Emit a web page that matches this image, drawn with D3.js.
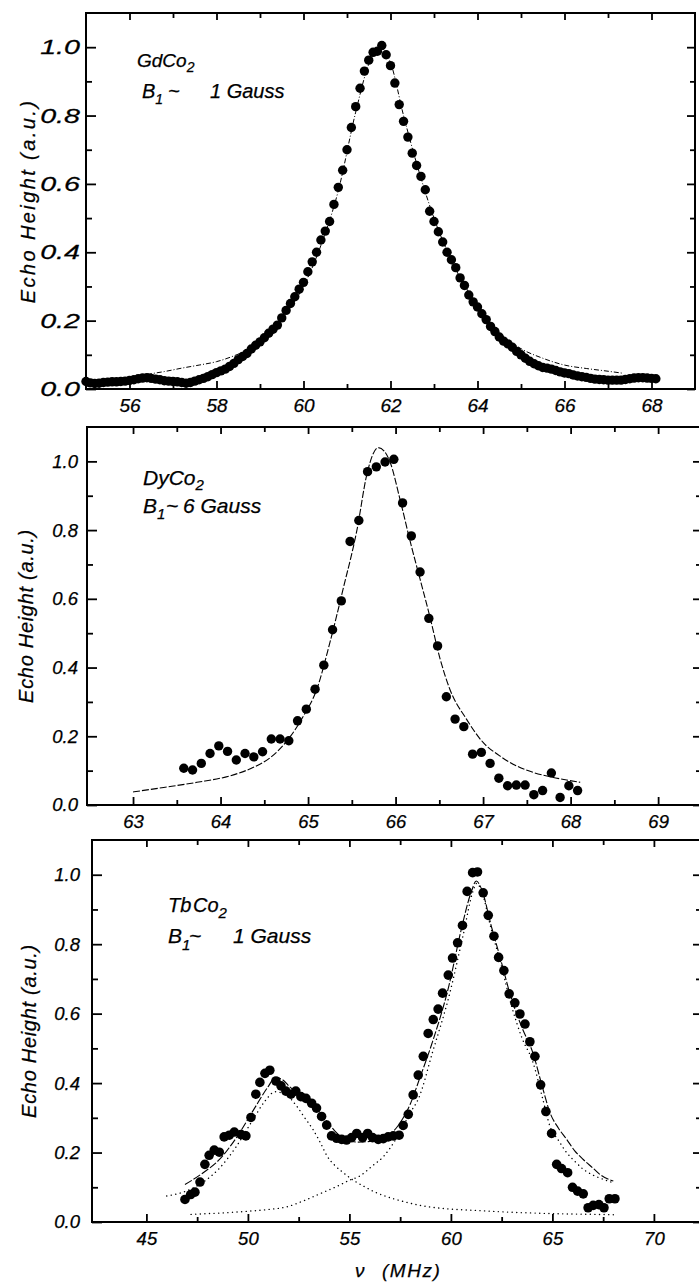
<!DOCTYPE html>
<html><head><meta charset="utf-8">
<script src="https://cdn.jsdelivr.net/npm/d3@7"></script>
<style>
body{margin:0;background:#fff}
svg{display:block}
text{font-family:"Liberation Sans",Arial,Helvetica,sans-serif;font-style:italic;fill:#000;stroke:#000;stroke-width:0.25px}
</style>
</head><body>
<svg id="c" width="699" height="1287"></svg>
<script>
// ---------------- DATA ----------------
// Panel 1: GdCo2
const gdFreq = [55.0,55.1,55.2,55.3,55.4,55.5,55.6,55.7,55.8,55.9,56.0,56.1,56.2,56.3,56.4,56.5,56.6,56.7,56.8,56.9,57.0,57.1,57.2,57.3,57.4,57.5,57.6,57.7,57.8,57.9,58.0,58.1,58.2,58.3,58.4,58.5,58.6,58.7,58.8,58.9,59.0,59.1,59.2,59.3,59.4,59.5,59.6,59.7,59.8,59.9,60.0,60.1,60.2,60.3,60.4,60.5,60.6,60.7,60.8,60.9,61.0,61.1,61.2,61.3,61.4,61.5,61.6,61.7,61.8,61.9,62.0,62.1,62.2,62.3,62.4,62.5,62.6,62.7,62.8,62.9,63.0,63.1,63.2,63.3,63.4,63.5,63.6,63.7,63.8,63.9,64.0,64.1,64.2,64.3,64.4,64.5,64.6,64.7,64.8,64.9,65.0,65.1,65.2,65.3,65.4,65.5,65.6,65.7,65.8,65.9,66.0,66.1,66.2,66.3,66.4,66.5,66.6,66.7,66.8,66.9,67.0,67.1,67.2,67.3,67.4,67.5,67.6,67.7,67.8,67.9,68.0,68.1];
const gdEcho = [0.022,0.018,0.016,0.017,0.019,0.020,0.021,0.021,0.022,0.023,
0.025,0.027,0.030,0.032,0.033,0.031,0.029,0.027,0.024,0.023,
0.022,0.021,0.019,0.017,0.019,0.023,0.027,0.031,0.036,0.042,
0.048,0.053,0.058,0.066,0.075,0.086,0.095,0.104,0.117,0.128,
0.138,0.150,0.163,0.175,0.187,0.208,0.230,0.250,0.270,0.292,
0.312,0.343,0.372,0.400,0.436,0.462,0.490,0.540,0.590,0.640,
0.700,0.765,0.826,0.880,0.930,0.962,0.985,0.988,1.005,0.978,
0.946,0.895,0.832,0.783,0.737,0.690,0.654,0.622,0.583,0.520,
0.490,0.460,0.430,0.400,0.378,0.355,0.325,0.303,0.275,0.255,
0.240,0.220,0.203,0.183,0.168,0.152,0.140,0.132,0.122,0.110,
0.100,0.090,0.081,0.074,0.068,0.063,0.061,0.058,0.054,0.050,
0.047,0.045,0.041,0.038,0.036,0.034,0.031,0.029,0.028,0.027,
0.026,0.026,0.026,0.026,0.028,0.030,0.032,0.033,0.033,0.032,
0.031,0.030];
const gdFitFreq = [56.4,56.8,57.2,57.6,58.0,58.4,58.8,59.2,59.6,60.0,60.4,60.8,61.2,61.5,61.75,62.0,62.3,62.6,63.0,63.5,64.0,64.5,65.0,65.5,66.0,66.5,67.0,67.35];
const gdFitEcho = [0.043,0.051,0.061,0.070,0.080,0.097,0.120,0.160,0.222,0.300,0.420,0.580,0.810,0.950,1.000,0.955,0.800,0.660,0.500,0.350,0.245,0.165,0.118,0.090,0.070,0.060,0.052,0.046];

// Panel 2: DyCo2
const dyFreq = [63.58,63.68,63.78,63.88,63.98,64.08,64.18,64.28,64.38,64.48,64.58,64.68,64.78,64.88,64.98,65.08,65.18,65.28,65.38,65.48,65.58,65.68,65.78,65.88,65.98,66.08,66.18,66.28,66.38,66.48,66.58,66.68,66.78,66.88,66.98,67.08,67.18,67.28,67.38,67.48,67.58,67.68,67.78,67.88,67.98,68.08];
const dyEcho = [0.107,0.102,0.121,0.150,0.172,0.156,0.131,0.150,0.140,0.155,0.192,0.192,0.187,0.245,0.279,0.337,0.407,0.510,0.594,0.767,0.828,0.970,0.984,0.998,1.006,0.879,0.783,0.678,0.543,0.463,0.315,0.250,0.228,0.148,0.153,0.121,0.078,0.056,0.058,0.058,0.030,0.042,0.093,0.022,0.056,0.042];
const dyFitFreq = [63.0,63.35,63.73,64.11,64.37,64.57,64.76,64.95,65.10,65.25,65.40,65.56,65.67,65.74,65.80,65.87,65.94,66.05,66.17,66.28,66.39,66.51,66.62,66.81,67.0,67.19,67.38,67.57,67.77,68.11];
const dyFitEcho = [0.038,0.051,0.066,0.085,0.109,0.138,0.187,0.260,0.337,0.473,0.628,0.802,0.960,1.020,1.040,1.030,0.996,0.890,0.764,0.657,0.550,0.424,0.337,0.250,0.182,0.143,0.114,0.095,0.082,0.066];

// Panel 3: TbCo2
const tbFreq = [46.90,47.18,47.39,47.64,47.88,48.09,48.34,48.59,48.83,49.08,49.33,49.66,49.90,50.15,50.39,50.59,50.84,51.08,51.38,51.63,51.87,52.12,52.36,52.61,52.86,53.14,53.38,53.63,53.88,54.12,54.37,54.62,54.86,55.11,55.36,55.65,55.90,56.14,56.42,56.67,56.91,57.16,57.45,57.65,57.90,58.14,58.39,58.64,58.88,59.13,59.37,59.59,59.87,60.08,60.33,60.57,60.80,61.07,61.31,61.59,61.84,62.12,62.35,62.61,62.87,63.15,63.40,63.65,63.89,64.14,64.42,64.68,64.96,65.21,65.45,65.75,65.99,66.24,66.52,66.76,67.01,67.29,67.54,67.80,68.08];
const tbEcho = [0.065,0.079,0.086,0.115,0.166,0.192,0.207,0.201,0.245,0.250,0.259,0.252,0.248,0.301,0.368,0.402,0.428,0.437,0.406,0.392,0.377,0.368,0.377,0.361,0.356,0.342,0.328,0.304,0.279,0.248,0.241,0.238,0.236,0.243,0.255,0.243,0.255,0.243,0.238,0.240,0.245,0.248,0.250,0.278,0.310,0.366,0.423,0.477,0.543,0.583,0.613,0.659,0.711,0.760,0.804,0.854,0.952,1.006,1.008,0.948,0.883,0.823,0.762,0.724,0.657,0.631,0.599,0.570,0.519,0.477,0.395,0.318,0.255,0.166,0.154,0.142,0.100,0.089,0.081,0.041,0.048,0.050,0.041,0.067,0.067];
const tbFitFreq = [46.9,47.8,48.6,49.4,50.3,51.0,51.35,51.7,52.1,52.6,53.05,53.5,53.9,54.4,54.9,55.4,56.0,56.7,57.3,58.0,58.5,59.1,59.9,60.5,61.0,61.25,61.5,62.0,62.4,63.0,63.5,64.05,64.5,64.88,65.3,65.7,66.1,66.52,67.0,67.34,68.0];
const tbFitEcho = [0.108,0.142,0.180,0.240,0.325,0.390,0.416,0.410,0.387,0.370,0.349,0.320,0.290,0.255,0.236,0.230,0.232,0.240,0.270,0.340,0.420,0.520,0.680,0.840,0.950,0.982,0.960,0.850,0.767,0.640,0.560,0.485,0.390,0.315,0.270,0.238,0.205,0.180,0.155,0.137,0.118];
const tbPeak1Freq = [46.0,47.0,47.8,48.6,49.4,50.2,50.8,51.35,51.9,52.4,52.8,53.2,53.6,53.9,54.3,54.7,55.2,55.7,56.3,57.0,57.6,58.3,59.0,60.0,61.0,62.0,63.0,64.0,65.0,66.0,67.0,68.0];
const tbPeak1Echo = [0.075,0.090,0.115,0.155,0.215,0.290,0.345,0.375,0.365,0.334,0.300,0.267,0.225,0.190,0.162,0.142,0.120,0.103,0.085,0.070,0.060,0.050,0.043,0.037,0.034,0.031,0.028,0.026,0.024,0.023,0.022,0.021];
const tbPeak2Freq = [47.2,48.0,49.0,50.0,51.0,52.0,52.7,53.5,54.4,55.0,55.5,56.1,56.7,57.2,57.65,58.0,58.4,59.1,59.95,60.6,61.1,61.27,61.5,62.0,62.41,63.0,63.5,64.05,64.5,64.88,65.3,65.7,66.1,66.52,67.0,67.5,68.0];
const tbPeak2Echo = [0.022,0.024,0.027,0.031,0.036,0.045,0.060,0.080,0.103,0.120,0.132,0.160,0.190,0.230,0.276,0.315,0.355,0.490,0.660,0.825,0.955,0.975,0.955,0.840,0.755,0.620,0.530,0.459,0.360,0.276,0.235,0.200,0.175,0.152,0.135,0.123,0.113];

// ticks
const yMajor = [0, 0.2, 0.4, 0.6, 0.8, 1.0];
const yMinor = [0.1, 0.3, 0.5, 0.7, 0.9];
const gdXMajor = [56, 58, 60, 62, 64, 66, 68];
const gdXMinor = [57, 59, 61, 63, 65, 67];
const dyXMajor = [63, 64, 65, 66, 67, 68, 69];
const dyXMinor = [63.5, 64.5, 65.5, 66.5, 67.5, 68.5];
const tbXMajor = [45, 50, 55, 60, 65, 70];
const tbXMinor = [47.5, 52.5, 57.5, 62.5, 67.5];

// ---------------- DRAWING ----------------
const svg = d3.select("#c");
const fmtY = d3.format(".1f");

function panel(p) {
  const g = svg.append("g");
  const x = d3.scaleLinear().domain(p.xDomain).range([p.left, p.right]);
  const y = d3.scaleLinear().domain([0, 1.1]).range([p.bottom, p.top]);
  const strip = s => s.select(".domain").remove();

  const bx = g.append("g").attr("transform", `translate(0,${p.bottom})`)
    .call(d3.axisBottom(x).tickValues(p.xMajor).tickSize(-8).tickPadding(p.xPad).tickFormat(d3.format("d")))
    .call(strip);
  bx.selectAll("text").attr("font-size", p.xFs);
  g.append("g").attr("transform", `translate(0,${p.bottom})`)
    .call(d3.axisBottom(x).tickValues(p.xMinor).tickSize(-5).tickFormat("")).call(strip);
  g.append("g").attr("transform", `translate(0,${p.top})`)
    .call(d3.axisTop(x).tickValues(p.xMajor).tickSize(-7).tickFormat("")).call(strip);
  g.append("g").attr("transform", `translate(0,${p.top})`)
    .call(d3.axisTop(x).tickValues(p.xMinor).tickSize(-5).tickFormat("")).call(strip);
  const ly = g.append("g").attr("transform", `translate(${p.left},0)`)
    .call(d3.axisLeft(y).tickValues(yMajor).tickSize(-10).tickPadding(p.yPad).tickFormat(fmtY))
    .call(strip);
  ly.selectAll("text").attr("font-size", p.yFs);
  if (p.yStretch) {
    ly.selectAll("text").attr("x", -p.yPad / p.yStretch).attr("transform", `scale(${p.yStretch},1)`);
  }
  g.append("g").attr("transform", `translate(${p.left},0)`)
    .call(d3.axisLeft(y).tickValues(yMinor).tickSize(-6).tickFormat("")).call(strip);
  g.append("g").attr("transform", `translate(${p.right},0)`)
    .call(d3.axisRight(y).tickValues(yMajor).tickSize(-8).tickFormat("")).call(strip);
  g.append("g").attr("transform", `translate(${p.right},0)`)
    .call(d3.axisRight(y).tickValues(yMinor).tickSize(-5).tickFormat("")).call(strip);
  g.selectAll(".tick line").attr("stroke", "#000").attr("stroke-width", 1.8);

  g.append("rect").attr("x", p.left).attr("y", p.top)
    .attr("width", p.right - p.left).attr("height", p.bottom - p.top)
    .attr("fill", "none").attr("stroke", "#000").attr("stroke-width", 2);

  g.append("text")
    .attr("transform", `translate(${p.titleX},${(p.top + p.bottom) / 2}) rotate(-90)`)
    .attr("text-anchor", "middle").attr("font-size", 20)
    .attr("letter-spacing", p.titleLs)
    .text("Echo Height (a.u.)");

  const line = d3.line().x(d => x(d[0])).y(d => y(d[1])).curve(d3.curveMonotoneX);
  (p.lines || []).forEach(L => {
    g.append("path").datum(d3.zip(L.fx, L.fy)).attr("d", line)
      .attr("fill", "none").attr("stroke", "#000")
      .attr("stroke-width", L.w).attr("stroke-dasharray", L.dash)
      .attr("stroke-linecap", L.cap || "butt");
  });
  g.append("g").selectAll("circle").data(d3.zip(p.fx, p.fy)).join("circle")
    .attr("cx", d => x(d[0])).attr("cy", d => y(d[1])).attr("r", p.r).attr("fill", "#000");
  return g;
}

const g1 = panel({
  left: 86, right: 695, top: 13, bottom: 389, xDomain: [55, 69],
  xMajor: gdXMajor, xMinor: gdXMinor, xPad: 10, xFs: 19, yPad: 6, yFs: 20.5, yStretch: 1.4,
  titleX: 35, titleLs: 2.4, r: 4.7, fx: gdFreq, fy: gdEcho,
  lines: [{fx: gdFitFreq, fy: gdFitEcho, w: 1, dash: "5,2,1,2"}]
});
const g2 = panel({
  left: 87, right: 701, top: 427, bottom: 805, xDomain: [62.474, 69.49],
  xMajor: dyXMajor, xMinor: dyXMinor, xPad: 10, xFs: 18.5, yPad: 9, yFs: 18.5,
  titleX: 33, titleLs: 0.7, r: 4.7, fx: dyFreq, fy: dyEcho,
  lines: [{fx: dyFitFreq, fy: dyFitEcho, w: 1.1, dash: "7,2"}]
});
const g3 = panel({
  left: 92, right: 701, top: 840, bottom: 1222, xDomain: [42.32, 72.32],
  xMajor: tbXMajor, xMinor: tbXMinor, xPad: 10, xFs: 18.5, yPad: 12, yFs: 18.5,
  titleX: 36, titleLs: 0.7, r: 4.8, fx: tbFreq, fy: tbEcho,
  lines: [
    {fx: tbPeak1Freq, fy: tbPeak1Echo, w: 1.4, dash: "0.1,4.5", cap: "round"},
    {fx: tbPeak2Freq, fy: tbPeak2Echo, w: 1.4, dash: "0.1,4.5", cap: "round"},
    {fx: tbFitFreq, fy: tbFitEcho, w: 1.1, dash: "8,2"}
  ]
});

// annotations
{
  const t = g1.append("text").attr("x", 137).attr("y", 67).attr("font-size", 19);
  t.append("tspan").text("GdCo");
  t.append("tspan").attr("dy", 5).attr("font-size", 14).text("2");
  const b = g1.append("text").attr("x", 142).attr("y", 98).attr("font-size", 20);
  b.append("tspan").text("B");
  b.append("tspan").attr("dy", 6).attr("font-size", 14).text("1");
  b.append("tspan").attr("x", 168).attr("dy", -6).text("~");
  b.append("tspan").attr("x", 210).text("1 Gauss");
}
{
  const t = g2.append("text").attr("x", 143).attr("y", 485).attr("font-size", 21);
  t.append("tspan").text("DyCo");
  t.append("tspan").attr("dy", 5).attr("font-size", 15).text("2");
  const b = g2.append("text").attr("x", 143).attr("y", 513).attr("font-size", 21);
  b.append("tspan").text("B");
  b.append("tspan").attr("dy", 6).attr("font-size", 15).text("1");
  b.append("tspan").attr("x", 166).attr("dy", -6).text("~");
  b.append("tspan").attr("x", 183).text("6 Gauss");
}
{
  const t = g3.append("text").attr("x", 168).attr("y", 912).attr("font-size", 20);
  t.append("tspan").text("Tb");
  t.append("tspan").attr("x", 193).text("Co");
  t.append("tspan").attr("dy", 6).attr("font-size", 15).text("2");
  const b = g3.append("text").attr("x", 168).attr("y", 943).attr("font-size", 21);
  b.append("tspan").text("B");
  b.append("tspan").attr("dy", 7).attr("font-size", 15).text("1");
  b.append("tspan").attr("x", 189).attr("dy", -7).text("~");
  b.append("tspan").attr("x", 233).text("1 Gauss");
}
{
  const t = svg.append("text").attr("y", 1277).attr("font-size", 19);
  t.append("tspan").attr("x", 355).text("ν");
  t.append("tspan").attr("x", 382).attr("letter-spacing", 1.5).text("(MHz)");
}
</script>
</body></html>
